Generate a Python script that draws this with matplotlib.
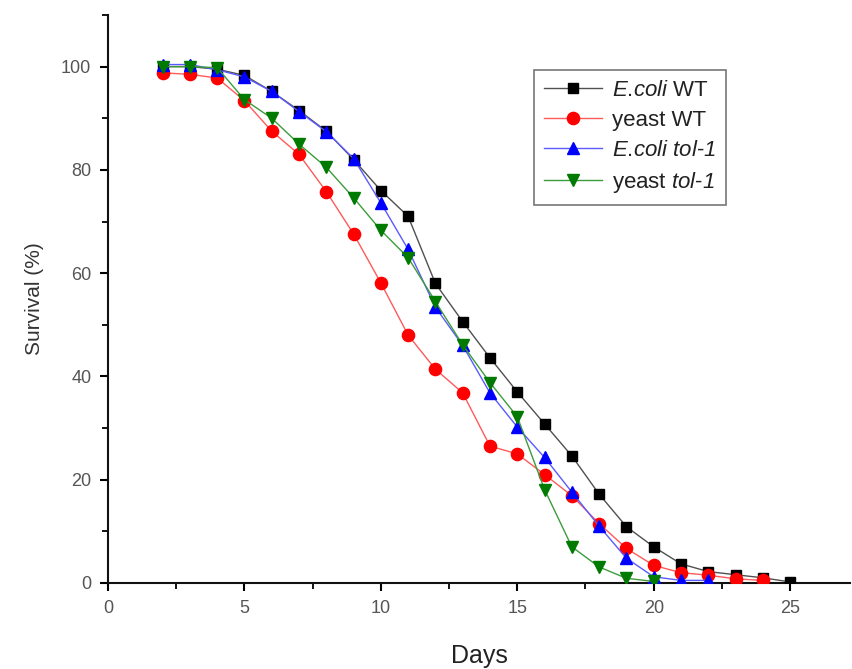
import numpy as np
import matplotlib
matplotlib.use("Agg")
import matplotlib.pyplot as plt
from matplotlib.ticker import MultipleLocator

plt.rcParams['font.family'] = ['Liberation Sans', 'DejaVu Sans']
plt.rcParams['mathtext.fontset'] = 'custom'
plt.rcParams['mathtext.sf'] = 'Liberation Sans:italic'
plt.rcParams['mathtext.it'] = 'Liberation Sans:italic'
plt.rcParams['mathtext.rm'] = 'Liberation Sans'

# survival data
days_ecoli_wt = [2, 3, 4, 5, 6, 7, 8, 9, 10, 11, 12, 13, 14, 15, 16, 17, 18, 19, 20, 21, 22, 23, 24, 25]
ecoli_wt = [100, 100, 99.5, 98.3, 95.2, 91.5, 87.5, 82, 76, 71, 58, 50.6, 43.6, 37, 30.8, 24.6, 17.2, 10.9, 7, 3.7, 2.2, 1.6, 1, 0.2]

days_yeast_wt = [2, 3, 4, 5, 6, 7, 8, 9, 10, 11, 12, 13, 14, 15, 16, 17, 18, 19, 20, 21, 22, 23, 24]
yeast_wt = [98.8, 98.5, 97.8, 93.4, 87.5, 83, 75.8, 67.6, 58.1, 48, 41.4, 36.8, 26.5, 25, 21, 16.9, 11.5, 6.7, 3.4, 2, 1.5, 0.8, 0.5]

days_ecoli_tol = [2, 3, 4, 5, 6, 7, 8, 9, 10, 11, 12, 13, 14, 15, 16, 17, 18, 19, 20, 21, 22]
ecoli_tol = [100.4, 100.4, 99.4, 98, 95.2, 91.3, 87.4, 82.2, 73.6, 64.6, 53.4, 46, 36.8, 30.2, 24.3, 17.6, 11, 4.8, 1.2, 0.5, 0.5]

days_yeast_tol = [2, 3, 4, 5, 6, 7, 8, 9, 10, 11, 12, 13, 14, 15, 16, 17, 18, 19, 20]
yeast_tol = [100, 100, 99.8, 93.6, 90, 85, 80.5, 74.6, 68.3, 63, 54.5, 46.1, 38.8, 32.2, 18.1, 7, 3.1, 0.9, 0.3]

labels = [r'$\mathsf{E}$.$\mathsf{coli}$ WT',
          'yeast WT',
          r'$\mathsf{E}$.$\mathsf{coli}$ $\mathsf{tol}$-$\mathsf{1}$',
          r'yeast $\mathsf{tol}$-$\mathsf{1}$']

fig = plt.figure(figsize=(8.52, 6.69), dpi=100)
ax = fig.add_axes([0.1268, 0.1286, 0.871, 0.849])

ax.plot(days_ecoli_wt, ecoli_wt, color='#505050', lw=1, marker='s', ms=7.8,
        mfc='black', mec='black', label=labels[0], zorder=3)
ax.plot(days_yeast_wt, yeast_wt, color='#ff5a5a', lw=1, marker='o', ms=8.8,
        mfc='#ff0000', mec='#ff0000', label=labels[1], zorder=3)
ax.plot(days_ecoli_tol, ecoli_tol, color='#5a5aff', lw=1, marker='^', ms=9.3,
        mfc='#0000ff', mec='#0000ff', label=labels[2], zorder=3)
ax.plot(days_yeast_tol, yeast_tol, color='#3c9c3c', lw=1, marker='v', ms=9.3,
        mfc='#007a00', mec='#007a00', label=labels[3], zorder=3)

ax.set_xlim(0, 27.2)
ax.set_ylim(0, 110)
ax.xaxis.set_major_locator(MultipleLocator(5))
ax.xaxis.set_minor_locator(MultipleLocator(2.5))
ax.yaxis.set_major_locator(MultipleLocator(20))
ax.yaxis.set_minor_locator(MultipleLocator(10))
ax.set_yticks([0, 20, 40, 60, 80, 100])

for s in ['top', 'right']:
    ax.spines[s].set_visible(False)
for s in ['left', 'bottom']:
    ax.spines[s].set_linewidth(1.5)
    ax.spines[s].set_color('#111111')

ax.tick_params(which='major', direction='out', length=6, width=1.5, labelsize=13,
               labelcolor='#555555', pad=6)
ax.tick_params(which='minor', direction='out', length=4, width=1.3)

ax.set_xlabel('Days', fontsize=18, color='#222222', labelpad=20)
ax.set_ylabel('Survival (%)', fontsize=15, color='#333333', labelpad=12)

leg = ax.legend(loc='upper left', bbox_to_anchor=(0.574, 0.903), borderaxespad=0,
                fontsize=16, frameon=True, fancybox=False, edgecolor='#555555',
                handlelength=2.6, handletextpad=0.45, labelspacing=0.4,
                borderpad=0.45)
leg.get_frame().set_linewidth(1.2)
for t in leg.get_texts():
    t.set_color('#222222')

fig.savefig('out.png', dpi=100)
